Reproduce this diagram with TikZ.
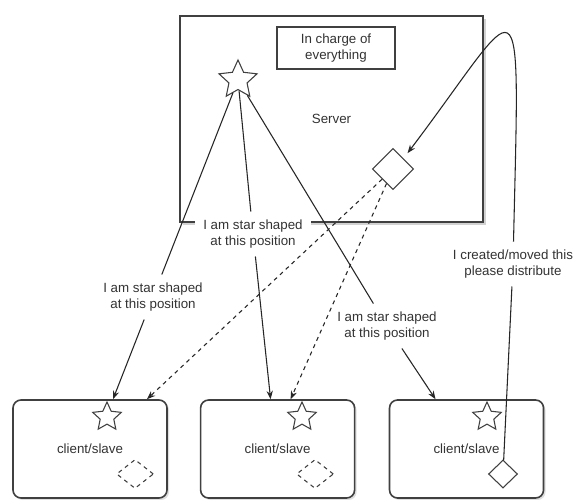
\documentclass[tikz,border=0pt]{standalone}
\usepackage{fontspec}
\setmainfont{Liberation Sans}
\usetikzlibrary{shapes.geometric,arrows.meta,positioning,calc,shadows}

\begin{document}
\begin{tikzpicture}[
    x=0.75pt, y=-0.75pt,
    font=\fontsize{10}{12}\selectfont,
    text=black!80,
    box/.style={draw=black!75, fill=white, line width=1.5pt, minimum width=227pt, minimum height=154.5pt, drop shadow={shadow xshift=2pt, shadow yshift=-2pt, opacity=0.35}},
    boss/.style={draw=black!75, line width=1pt, minimum width=88.5pt, minimum height=31.5pt, align=center},
    client/.style={draw=black!75, fill=white, rounded corners=6pt, line width=1.2pt, minimum width=115.5pt, minimum height=73.5pt, drop shadow={shadow xshift=1.5pt, shadow yshift=-1.5pt, opacity=0.25}},
    starmark/.style={draw=black!75, star, star points=5, star point ratio=2.1, inner sep=0pt, minimum size=#1, line width=0.8pt},
    diamark/.style={draw=black!75, diamond, inner sep=0pt, line width=0.8pt},
    note/.style={fill=white, align=center, inner sep=6pt},
    wire/.style={line width=0.8pt, draw=black!85},
    link/.style={wire, -{Stealth[length=2.2mm]}},
    sync/.style={link, dashed}
]
\useasboundingbox[fill=white] (0,0) rectangle (575,500);

% server side
\node[box] (srv) at (331.5,119) {Server};
\node[boss] (boss) at (336,48) {In charge of\\everything};
\node[starmark=30pt] (sstar) at (238,80) {};
\node[diamark, minimum width=30.75pt, minimum height=30.75pt] (sdia) at (393,169) {};

% clients
\node[client] (cl1) at (90,449) {client/slave};
\node[client, right=24pt of cl1] (cl2) {client/slave};
\node[client, right=25pt of cl2] (cl3) {client/slave};

\node[starmark=22.5pt] (st1) at (107,417) {};
\node[starmark=22.5pt] (st2) at (302,417) {};
\node[starmark=22.5pt] (st3) at (487,417) {};

\node[diamark, dashed, minimum width=27.75pt, minimum height=21.75pt] (dc1) at (135,474) {};
\node[diamark, dashed, minimum width=27.75pt, minimum height=21.75pt] (dc2) at (315,474) {};
\node[diamark, minimum width=21.75pt, minimum height=21pt] (dc3) at (503,474) {};

% notes on the connectors
\node[note] (nA) at (153,297) {I am star shaped\\at this position};
\node[note] (nB) at (253,234) {I am star shaped\\at this position};
\node[note] (nC) at (387,326) {I am star shaped\\at this position};
\node[note] (nD) at (513,264) {I created/moved this\\please distribute};

\draw[wire] (sstar) -- (nA);
\draw[link] (nA) -- ($(cl1.north)+(23,0)$);
\draw[wire] (sstar) -- (nB);
\draw[link] (nB) -- ($(cl2.north)+(-7,0)$);
\draw[wire] (sstar) -- (nC);
\draw[link] (nC) -- ($(cl3.north)+(-31,0)$);

\draw[wire] (dc3) -- (nD);
\draw[link, shorten >=5pt] (nD) .. controls (520,-40) and (525,-2) .. (sdia.north east);

\draw[sync] (sdia) -- ($(cl1.north)+(57,0)$);
\draw[sync] (sdia) -- ($(cl2.north)+(13,0)$);
\end{tikzpicture}
\end{document}
